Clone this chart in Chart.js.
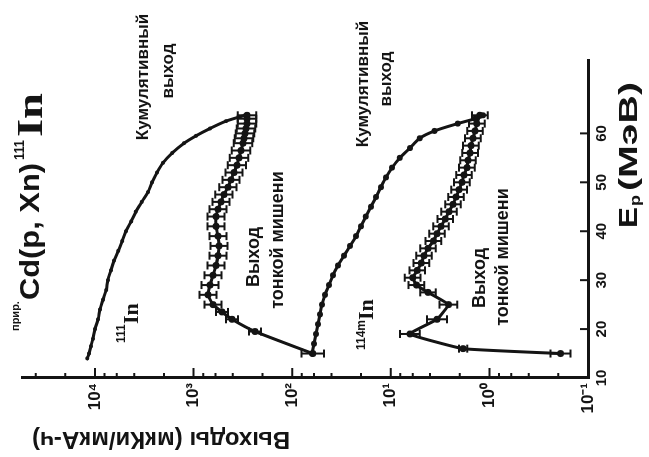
<!DOCTYPE html>
<html>
<head>
<meta charset="utf-8">
<script src="https://cdn.jsdelivr.net/npm/chart.js@4.4.1/dist/chart.umd.min.js"></script>
<style>
  html, body { margin: 0; padding: 0; background: #fff; overflow: hidden; }
  /* the figure is printed turned a quarter turn, so the canvas is drawn upright and rotated */
  #wrap { position: absolute; left: 96px; top: -96px; width: 457px; height: 649px; transform: rotate(-90deg); }
  canvas { display: block; }
</style>
</head>
<body>
<div id="wrap"><canvas id="c" width="457" height="649"></canvas></div>
<script>
// ---------- data ----------
const epTicks = [10, 20, 30, 40, 50, 60];
const yieldTicks = [0.1, 1, 10, 100, 1000, 10000];
const yieldTickLabels = ['10⁻¹', '10⁰', '10¹', '10²', '10³', '10⁴'];
const yieldMinorTicks = [0.2, 0.4, 0.6, 0.8, 2, 4, 6, 8, 20, 40, 60, 80, 200, 400, 600, 800, 2000, 4000, 6000, 8000, 20000, 40000];

// 111In, cumulative yield
const ep111Cum = [14, 15, 16.5, 18, 20, 22, 24, 26, 28, 30, 32, 34, 36, 38, 40, 42, 44, 46, 48, 50, 52, 54, 56, 58, 59.5, 61, 62.5, 63.7];
const y111Cum = [12000, 11500, 11000, 10500, 10000, 9300, 8900, 8300, 7700, 7400, 6900, 6400, 5800, 5300, 4850, 4300, 3850, 3350, 2900, 2640, 2350, 2040, 1650, 1250, 946, 682, 469, 301];

// 111In, thin target yield
const ep111Thin = [15, 19.5, 22, 23.5, 25, 27, 29, 31, 33, 35, 37, 39, 41, 43, 44.5, 46, 47.5, 49, 50.5, 52, 53.5, 55, 56.5, 58, 59, 60, 61, 62, 63, 63.7];
const y111Thin = [62, 238, 408, 515, 636, 714, 682, 636, 593, 566, 553, 566, 593, 593, 566, 528, 493, 449, 418, 390, 364, 347, 331, 316, 308, 301, 294, 287, 287, 287];
const err111Thin = [0.3, 0.15, 0.15, 0.15, 0.22, 0.22, 0.22, 0.22, 0.22, 0.22, 0.22, 0.22, 0.22, 0.22, 0.22, 0.22, 0.22, 0.22, 0.22, 0.22, 0.24, 0.24, 0.24, 0.24, 0.24, 0.24, 0.24, 0.24, 0.24, 0.24];

// 114mIn, cumulative yield
const ep114Cum = [15, 17, 19, 21, 23, 25, 27, 29, 31, 33, 35, 37, 39, 41, 43, 45, 47, 49, 51, 53, 55, 57, 59, 60.5, 62, 63, 63.7];
const y114Cum = [63, 60, 57.4, 54.8, 52.3, 49.9, 46.5, 42.4, 38.6, 34.3, 29.9, 25.9, 22.5, 20.1, 17.9, 15.9, 14.1, 12.6, 11.2, 9.7, 8.1, 6.4, 5.1, 3.6, 2.1, 1.4, 1.16];

// 114mIn, thin target yield
const ep114Thin = [15, 16, 19, 22, 25, 27.5, 29, 30.5, 32, 33.5, 35, 36.5, 38, 39.5, 41, 42.5, 44, 45.5, 47, 48.5, 50, 51.5, 53, 54.5, 56, 57.5, 59, 60.5, 62, 63.7];
const y114Thin = [0.19, 1.85, 6.4, 3.4, 2.6, 4.2, 5.5, 6.0, 5.4, 4.9, 4.6, 4.2, 3.7, 3.4, 3.1, 2.8, 2.57, 2.34, 2.18, 2.03, 1.9, 1.81, 1.69, 1.65, 1.57, 1.54, 1.47, 1.40, 1.34, 1.25];
const err114Thin = [0.26, 0.1, 0.26, 0.26, 0.23, 0.2, 0.2, 0.2, 0.2, 0.2, 0.2, 0.2, 0.2, 0.2, 0.2, 0.2, 0.2, 0.2, 0.2, 0.2, 0.2, 0.2, 0.2, 0.2, 0.2, 0.2, 0.2, 0.2, 0.2, 0.2];

// ---------- helpers ----------
const INK = '#141414';
const SANS = "'Liberation Sans', Arial, sans-serif";
const NARROW = "'Liberation Sans Narrow', 'Liberation Sans', Arial, sans-serif";
const SERIF = "'Liberation Serif', 'DejaVu Serif', serif";

function pairs(xs, ys) {
  return xs.map((x, i) => ({ x: x, y: ys[i] }));
}

function curve(xs, ys, radius, tension, err) {
  return {
    data: pairs(xs, ys),
    err: err,
    showLine: true,
    borderColor: INK,
    borderWidth: 3,
    pointRadius: radius,
    pointBackgroundColor: INK,
    pointBorderWidth: 0,
    tension: tension
  };
}

function text(ctx, str, x, y, font, align) {
  ctx.font = font;
  ctx.textAlign = align || 'left';
  ctx.fillText(str, x, y);
}

// same, but squeezed or stretched sideways to a given width (the lettering is hand-set)
function textW(ctx, str, x, y, font, width) {
  ctx.font = font;
  ctx.textAlign = 'left';
  const w = ctx.measureText(str).width;
  ctx.save();
  ctx.translate(x, y);
  ctx.scale(width / w, 1);
  ctx.fillText(str, 0, 0);
  ctx.restore();
}

// inward ticks, error bars and the hand-lettered labels
const decor = {
  id: 'decor',
  afterDatasetsDraw(chart) {
    const ctx = chart.ctx;
    const xs = chart.scales.x, ys = chart.scales.y;
    const area = chart.chartArea;
    ctx.save();
    ctx.strokeStyle = INK;
    ctx.fillStyle = INK;
    ctx.lineCap = 'butt';

    // error bars
    chart.data.datasets.forEach((ds) => {
      if (!ds.err) return;
      ctx.lineWidth = 2;
      ds.data.forEach((p, i) => {
        const e = ds.err[i];
        const px = xs.getPixelForValue(p.x);
        const hi = ys.getPixelForValue(p.y * (1 + e));
        const lo = ys.getPixelForValue(p.y / (1 + e));
        ctx.beginPath();
        ctx.moveTo(px, hi); ctx.lineTo(px, lo);
        ctx.moveTo(px - 4, hi); ctx.lineTo(px + 4, hi);
        ctx.moveTo(px - 4, lo); ctx.lineTo(px + 4, lo);
        ctx.stroke();
      });
    });

    // ticks pointing into the plot
    ctx.lineWidth = 2;
    ctx.beginPath();
    epTicks.forEach((v) => {
      const px = xs.getPixelForValue(v);
      ctx.moveTo(px, area.bottom); ctx.lineTo(px, area.bottom - 8);
    });
    yieldTicks.forEach((v) => {
      const py = ys.getPixelForValue(v);
      ctx.moveTo(area.left, py); ctx.lineTo(area.left + 10, py);
    });
    yieldMinorTicks.forEach((v) => {
      const py = ys.getPixelForValue(v);
      ctx.moveTo(area.left, py); ctx.lineTo(area.left + 5, py);
    });
    ctx.stroke();

    ctx.textBaseline = 'alphabetic';

    // title
    text(ctx, 'прир.', 126, 19, 'bold 11px ' + SANS);
    textW(ctx, 'Cd(p, Xn)', 157, 39, 'bold 27px ' + SANS, 137);
    textW(ctx, '111', 297, 24, 'bold 14px ' + SANS, 20);
    textW(ctx, 'In', 320, 42, 'bold 36px ' + SERIF, 44);

    // curve labels
    text(ctx, 'Кумулятивный', 380, 148, 'bold 17px ' + SANS, 'center');
    text(ctx, 'выход', 386, 173, 'bold 17px ' + SANS, 'center');
    text(ctx, 'Кумулятивный', 373, 368, 'bold 17px ' + SANS, 'center');
    text(ctx, 'выход', 378, 391, 'bold 17px ' + SANS, 'center');

    text(ctx, '111', 114, 125, 'bold 12px ' + SANS);
    text(ctx, 'In', 133, 138, 'bold 22px ' + SERIF);
    text(ctx, '114m', 107, 365, 'bold 12px ' + SANS);
    text(ctx, 'In', 137, 373, 'bold 22px ' + SERIF);

    text(ctx, 'Выход', 200, 259, 'bold 18px ' + SANS, 'center');
    text(ctx, 'тонкой мишени', 217, 283, 'bold 18px ' + SANS, 'center');
    text(ctx, 'Выход', 179, 485, 'bold 18px ' + SANS, 'center');
    text(ctx, 'тонкой мишени', 200, 508, 'bold 18px ' + SANS, 'center');

    // axis titles
    textW(ctx, 'E', 229, 637, 'bold 26px ' + SANS, 21);
    textW(ctx, 'p', 251, 640, 'bold 15px ' + SANS, 11);
    textW(ctx, '(МэВ)', 266, 637, 'bold 26px ' + SANS, 109);

    ctx.save();
    ctx.translate(18, 161);
    ctx.rotate(-Math.PI / 2);
    ctx.textBaseline = 'middle';
    text(ctx, 'Выходы (мкКи/мкА-ч)', 0, 0, 'bold 24px ' + SANS, 'center');
    ctx.restore();

    ctx.restore();
  }
};

// ---------- chart ----------
new Chart(document.getElementById('c'), {
  type: 'scatter',
  data: {
    datasets: [
      curve(ep111Cum, y111Cum, 2, 0.3),
      curve(ep111Thin, y111Thin, 3.5, 0.15, err111Thin),
      curve(ep114Cum, y114Cum, 3, 0.3),
      curve(ep114Thin, y114Thin, 3.5, 0.1, err114Thin)
    ]
  },
  options: {
    responsive: false,
    animation: false,
    devicePixelRatio: 1,
    layout: { padding: { top: 22, right: 60, left: 0, bottom: 0 } },
    plugins: { legend: { display: false }, tooltip: { enabled: false } },
    scales: {
      x: {
        type: 'linear',
        min: 10,
        max: 75,
        afterBuildTicks: (s) => { s.ticks = epTicks.map((v) => ({ value: v })); },
        afterFit: (s) => { s.height = 61; },
        grid: { display: false, drawTicks: false },
        border: { display: true, color: INK, width: 3 },
        ticks: { color: INK, padding: 5, maxRotation: 0, font: { family: NARROW, size: 15, weight: 'bold' } }
      },
      y: {
        type: 'logarithmic',
        min: 0.1,
        max: 55000,
        afterBuildTicks: (s) => { s.ticks = yieldTicks.map((v) => ({ value: v })); },
        afterFit: (s) => { s.width = 79; },
        grid: { display: false, drawTicks: false },
        border: { display: true, color: INK, width: 3 },
        ticks: {
          color: INK,
          padding: 5,
          font: { family: NARROW, size: 17, weight: 'bold' },
          callback: (v) => {
            const i = yieldTicks.indexOf(v);
            return i >= 0 ? yieldTickLabels[i] : '';
          }
        }
      }
    }
  },
  plugins: [decor]
});
</script>
</body>
</html>
